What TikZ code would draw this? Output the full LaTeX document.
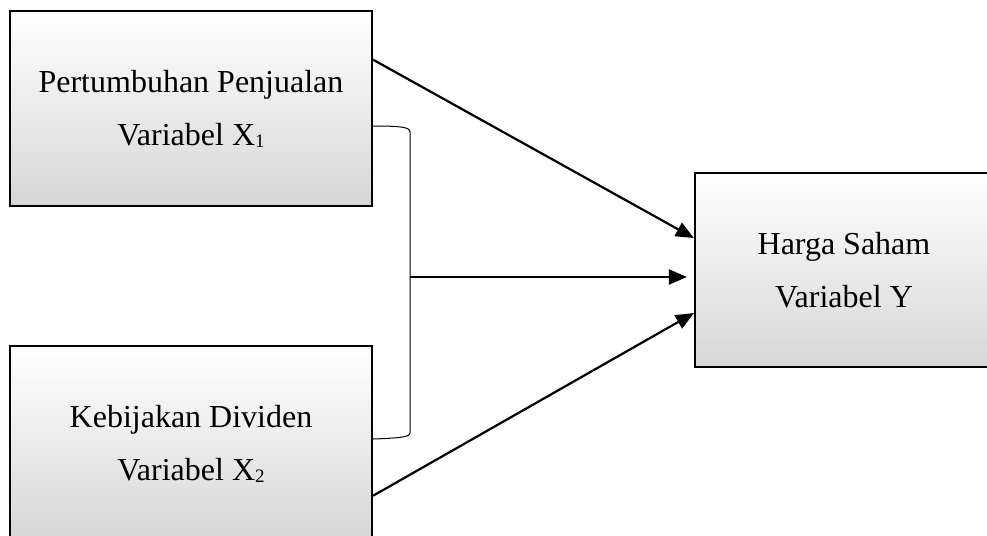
\documentclass[tikz,border=0pt]{standalone}
\usepackage{fontspec}
\setmainfont{Liberation Serif}
\usetikzlibrary{arrows.meta}
\newcommand{\Indeks}[1]{\raisebox{-2pt}{\fontsize{19}{19}\selectfont #1}}

\begin{document}
\begin{tikzpicture}[x=1pt,y=-1pt]
    \tikzset{KotakStyle/.style =   {draw=black,line width=2.2pt,top color=white,bottom color=black!16,
      minimum width=362pt,minimum height=195pt,align=center,inner sep=0pt,
      font=\fontsize{32}{53}\selectfont}}
    \tikzset{PanahStyle/.style =   {line width=2.2pt,-{Triangle[length=18pt,width=15pt]}}}
    \tikzset{KurungStyle/.style =   {line width=1pt}}

    \useasboundingbox (0,0) rectangle (987,535);

    \node[KotakStyle] (x1) at (191,108.5) {Pertumbuhan Penjualan\\Variabel X\Indeks{1}};
    \node[KotakStyle] (x2) at (191,443.5) {Kebijakan Dividen\\Variabel X\Indeks{2}};
    \node[KotakStyle,minimum width=298pt,minimum height=194pt] (y) at (844,270) {Harga Saham\\Variabel Y};

    % kurung penggabung X1 dan X2
    \coordinate (kurungAtas) at (x1.east |- 0,126);
    \coordinate (kurungBawah) at (x2.east |- 0,439);
    \coordinate (pusat) at (410,277);
    \draw[KurungStyle] (kurungAtas) .. controls (400,126) and (410,127) .. (410,132)
      -- (410,433) .. controls (410,437) and (400,438) .. (kurungBawah);

    \draw[PanahStyle] (x1.15) -- (y.168.6);
    \draw[PanahStyle] (x2.344.7) -- (y.196.8);
    \draw[PanahStyle] (pusat) -- ([xshift=-7pt]y.west |- pusat);
\end{tikzpicture}
\end{document}
